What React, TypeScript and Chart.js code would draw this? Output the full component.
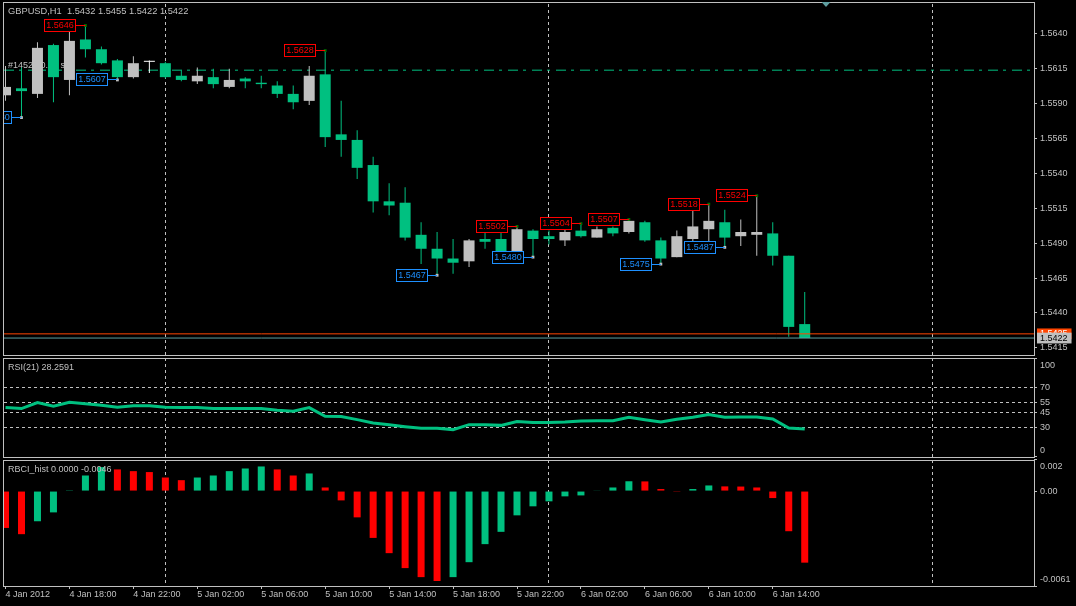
import React, { useEffect, useRef } from 'react';
import { Chart, registerables } from 'chart.js';

Chart.register(...registerables);

// ---------------- data ----------------
const OPEN = [1.5596,1.5601,1.5597,1.5632,1.5607,1.5636,1.5629,1.5621,1.5609,1.5620,1.5619,1.5610,1.5606,1.5609,1.5602,1.5608,1.5605,1.5603,1.5597,1.5592,1.5611,1.5568,1.5564,1.5546,1.5520,1.5519,1.5496,1.5486,1.5479,1.5477,1.5493,1.5493,1.5484,1.5499,1.5495,1.5492,1.5499,1.5494,1.5501,1.5498,1.5505,1.5492,1.5480,1.5493,1.5500,1.5505,1.5495,1.5496,1.5497,1.5481,1.5432];
const HIGH = [1.5617,1.5616,1.5634,1.5633,1.5642,1.5646,1.5631,1.5622,1.5624,1.5621,1.5620,1.5614,1.5616,1.5615,1.5615,1.5609,1.5610,1.5606,1.5603,1.5617,1.5628,1.5592,1.5571,1.5552,1.5533,1.5530,1.5505,1.5498,1.5493,1.5493,1.5499,1.5501,1.5502,1.5500,1.5499,1.5500,1.5504,1.5502,1.5502,1.5507,1.5506,1.5494,1.5499,1.5516,1.5518,1.5514,1.5507,1.5524,1.5505,1.5481,1.5455];
const LOW = [1.5592,1.5580,1.5594,1.5591,1.5596,1.5623,1.5618,1.5607,1.5608,1.5612,1.5608,1.5606,1.5604,1.5601,1.5601,1.5601,1.5601,1.5594,1.5586,1.5589,1.5559,1.5552,1.5536,1.5512,1.5510,1.5492,1.5475,1.5467,1.5468,1.5473,1.5486,1.5483,1.5483,1.5480,1.5489,1.5488,1.5494,1.5494,1.5495,1.5497,1.5491,1.5475,1.5480,1.5490,1.5489,1.5487,1.5488,1.5481,1.5474,1.5423,1.5422];
const CLOSE = [1.5602,1.5599,1.5630,1.5609,1.5635,1.5629,1.5619,1.5609,1.5619,1.5620,1.5609,1.5607,1.5610,1.5604,1.5607,1.5606,1.5604,1.5597,1.5591,1.5610,1.5566,1.5564,1.5544,1.5520,1.5517,1.5494,1.5486,1.5479,1.5476,1.5492,1.5491,1.5484,1.5500,1.5493,1.5493,1.5498,1.5495,1.5500,1.5497,1.5506,1.5492,1.5479,1.5495,1.5502,1.5506,1.5494,1.5498,1.5498,1.5481,1.5430,1.5422];
const RSI = [50,49,55.1,51.4,55.4,54,52.4,50.4,52,52,50.4,50,50,49,49,49,49,47.3,46.3,50,41.2,40.9,37.8,34.4,32.7,30.7,29,29,27.7,32.7,32.7,32,35.8,34.8,34.8,35.4,36.5,36.8,36.8,40.2,37.8,35.4,38.1,40.2,42.9,40.2,40.5,40.5,38.5,29.3,28.26];
const RBCI = [-0.00237,-0.00277,-0.00194,-0.00137,0.00005,0.001,0.00154,0.00139,0.00128,0.00122,0.00087,0.0007,0.00087,0.001,0.00128,0.00145,0.00158,0.00139,0.001,0.00113,0.00023,-0.0006,-0.00169,-0.00301,-0.00399,-0.00495,-0.00553,-0.00578,-0.00553,-0.00457,-0.00341,-0.00262,-0.00156,-0.00098,-0.00066,-0.00034,-0.00028,0.00004,0.00023,0.00063,0.00062,0.00013,-0.00005,0.00013,0.00036,0.0003,0.00029,0.00023,-0.00045,-0.00258,-0.0046];

const X_TICK_BARS = [0,4,8,12,16,20,24,28,32,36,40,44,48];
const X_TICK_LABELS = ['4 Jan 2012','4 Jan 18:00','4 Jan 22:00','5 Jan 02:00','5 Jan 06:00','5 Jan 10:00','5 Jan 14:00','5 Jan 18:00','5 Jan 22:00','6 Jan 02:00','6 Jan 06:00','6 Jan 10:00','6 Jan 14:00'];
const DAY_SEPARATORS = [10,34,58];
const SHIFT_MARK = 51.3;

const PRICE_TICKS = [1.5640,1.5615,1.5590,1.5565,1.5540,1.5515,1.5490,1.5465,1.5440,1.5415];
const ASK_PRICE = 1.5425;
const BID_PRICE = 1.5422;
const ORDER_LINE = 1.5614;
const ORDER_TEXT = '#14523 0.10 sl';

const RSI_TICKS = [100,70,55,45,30,0];
const RSI_LEVELS = [70,55,45,30];
const RBCI_TICKS = [0.002,0,-0.0061];
const RBCI_TICK_LABELS = ['0.002','0.00','-0.0061'];

const HIGH_MARKS = [5,20,32,36,39,44,47];
const LOW_MARKS = [1,7,27,33,41,45];

const TITLE_MAIN = 'GBPUSD,H1  1.5432 1.5455 1.5422 1.5422';
const TITLE_RSI = 'RSI(21) 28.2591';
const TITLE_RBCI = 'RBCI_hist 0.0000 -0.0046';

// ---------------- style / geometry ----------------
const FONT_FAMILY = '"Liberation Sans", Arial, sans-serif';
const FONT_SIZE = 9;
const FONT = { family: FONT_FAMILY, size: FONT_SIZE };
const EDGE_FONT = { family: FONT_FAMILY, size: FONT_SIZE, lineHeight: 1.5 };
const CSS_FONT = `${FONT_SIZE}px ${FONT_FAMILY}`;
const TITLE_FONT = `9.3px ${FONT_FAMILY}`;
const SILVER = '#c0c0c0';
const GREEN = '#00c080';
const RED = '#ff0000';
const BLUE = '#1e90ff';
const ASK_COLOR = '#ff4500';
const BID_COLOR = '#5f9ea0';
const W = 1076, H = 606;
const PLOT = { left: 3, top: 2, right: 1034, bottom: 586 };
const BAR_STEP = 16, BAR0_X = 4.5;
const PANES = [
  { top: 2, bottom: 355 },
  { top: 358, bottom: 457 },
  { top: 460, bottom: 586 },
];

function axisRange(vTop: number, pTop: number, vBot: number, pBot: number) {
  const upp = (vTop - vBot) / (pBot - pTop);
  return { max: vTop + (pTop - PLOT.top) * upp, min: vBot - (PLOT.bottom - pBot) * upp };
}
const PRICE_RANGE = axisRange(PRICE_TICKS[0], 32, PRICE_TICKS[PRICE_TICKS.length - 1], 347);
const RSI_RANGE = axisRange(100, 357.5, 0, 456.5);
const RBCI_RANGE = axisRange(RBCI_TICKS[0], 459.5, RBCI_TICKS[RBCI_TICKS.length - 1], 586);
const X_MIN = (PLOT.left - BAR0_X) / BAR_STEP;
const X_MAX = (PLOT.right - BAR0_X) / BAR_STEP;

const candleColor = (i: number) => (CLOSE[i] > OPEN[i] ? SILVER : CLOSE[i] < OPEN[i] ? GREEN : '#ffffff');
const rbciColor = (i: number) => (i > 0 && RBCI[i] > RBCI[i - 1] ? GREEN : RED);

const noPad = (s: any) => { s.paddingLeft = 0; s.paddingRight = 0; s.paddingTop = 0; s.paddingBottom = 0; };

const decorPlugin = {
  id: 'decor',
  afterLayout(chart: any) {
    // indicator axes take no layout room, but share the price axis strip for their labels
    ['yRsi', 'yRbci'].forEach((id) => {
      const s = chart.scales[id];
      s.left = PLOT.right;
      s.right = W;
      s.width = W - PLOT.right;
    });
  },
  beforeDatasetsDraw(chart: any) {
    const { ctx } = chart;
    const ys = chart.scales.y;
    ctx.save();
    ctx.font = CSS_FONT;
    ctx.fillStyle = SILVER;
    ctx.textBaseline = 'alphabetic';
    ctx.fillText(ORDER_TEXT, 8, ys.getPixelForValue(ORDER_LINE) - 2);
    ctx.restore();
  },
  afterDatasetsDraw(chart: any) {
    const { ctx } = chart;
    const xs = chart.scales.x, ys = chart.scales.y;
    ctx.save();
    ctx.beginPath();
    ctx.rect(PLOT.left, PANES[0].top, PLOT.right - PLOT.left, PANES[0].bottom - PANES[0].top);
    ctx.clip();
    ctx.font = CSS_FONT;
    ctx.textAlign = 'center';
    ctx.textBaseline = 'middle';
    const draw = (bars: number[], vals: number[], color: string) => {
      bars.forEach((b) => {
        const x = xs.getPixelForValue(b);
        const y = ys.getPixelForValue(vals[b]);
        const left = Math.round(x) - 41;
        const top = Math.round(y - 6.5);
        ctx.fillStyle = '#000';
        ctx.fillRect(left, top, 31, 12);
        ctx.strokeStyle = color;
        ctx.lineWidth = 1;
        ctx.strokeRect(left + 0.5, top + 0.5, 31, 12);
        ctx.beginPath();
        ctx.moveTo(left + 31, top + 6.5);
        ctx.lineTo(x, top + 6.5);
        ctx.stroke();
        ctx.fillStyle = color;
        ctx.fillText(vals[b].toFixed(4), left + 16, top + 7);
      });
    };
    draw(HIGH_MARKS, HIGH, RED);
    draw(LOW_MARKS, LOW, BLUE);
    ctx.restore();
  },
  afterDraw(chart: any) {
    const { ctx } = chart;
    const xs = chart.scales.x;
    ctx.save();
    ctx.strokeStyle = SILVER;
    ctx.lineWidth = 1;
    PANES.forEach((p) => {
      ctx.strokeRect(PLOT.left + 0.5, p.top + 0.5, PLOT.right - PLOT.left, p.bottom - p.top);
    });
    ctx.font = TITLE_FONT;
    ctx.fillStyle = SILVER;
    ctx.textBaseline = 'middle';
    ctx.textAlign = 'left';
    ctx.fillText(TITLE_MAIN, 8, 11);
    ctx.font = CSS_FONT;
    ctx.fillText(TITLE_RSI, 8, 368);
    ctx.fillText(TITLE_RBCI, 8, 470);
    const sx = xs.getPixelForValue(SHIFT_MARK);
    ctx.fillStyle = BID_COLOR;
    ctx.beginPath();
    ctx.moveTo(sx - 4, 2);
    ctx.lineTo(sx + 5, 2);
    ctx.lineTo(sx + 0.5, 7);
    ctx.closePath();
    ctx.fill();
    ctx.restore();
  },
};

export default function App() {
  const ref = useRef<HTMLCanvasElement>(null);
  useEffect(() => {
    const idx = OPEN.map((_, i) => i);
    const priceAxisTicks = [...PRICE_TICKS, ASK_PRICE, BID_PRICE];
    const hline = (v: number) => [{ x: X_MIN, y: v }, { x: X_MAX, y: v }];
    const chart = new Chart(ref.current as HTMLCanvasElement, {
      type: 'line',
      data: {
        datasets: [
          {
            type: 'line', xAxisID: 'x', yAxisID: 'y', order: 20,
            data: hline(ORDER_LINE), borderColor: GREEN, borderWidth: 1,
            borderDash: [10, 5, 3, 6], pointRadius: 0,
          },
          {
            type: 'bar', xAxisID: 'x', yAxisID: 'y', order: 6,
            data: idx.map((i) => ({ x: i, y: [LOW[i], HIGH[i]] })),
            backgroundColor: idx.map(candleColor),
            barThickness: 1, maxBarThickness: 1, grouped: false, inflateAmount: 0, borderWidth: 0,
          },
          {
            type: 'bar', xAxisID: 'x', yAxisID: 'y', order: 5,
            data: idx.map((i) => ({ x: i, y: [OPEN[i], CLOSE[i]] })),
            backgroundColor: idx.map(candleColor),
            barThickness: 11, maxBarThickness: 11, grouped: false, inflateAmount: 0, borderWidth: 0,
            minBarLength: 1,
          },
          {
            type: 'line', xAxisID: 'x', yAxisID: 'y', order: 2,
            data: hline(ASK_PRICE), borderColor: ASK_COLOR, borderWidth: 1, pointRadius: 0,
          },
          {
            type: 'line', xAxisID: 'x', yAxisID: 'y', order: 2,
            data: hline(BID_PRICE), borderColor: BID_COLOR, borderWidth: 1, pointRadius: 0,
          },
          {
            type: 'scatter', xAxisID: 'x', yAxisID: 'y', order: 1,
            data: HIGH_MARKS.map((i) => ({ x: i, y: HIGH[i] })),
            pointStyle: 'rect', pointRadius: 2, backgroundColor: '#007000', borderWidth: 0,
          },
          {
            type: 'scatter', xAxisID: 'x', yAxisID: 'y', order: 1,
            data: LOW_MARKS.map((i) => ({ x: i, y: LOW[i] })),
            pointStyle: 'rect', pointRadius: 2, backgroundColor: SILVER, borderWidth: 0,
          },
          {
            type: 'line', xAxisID: 'x', yAxisID: 'yRsi', order: 3,
            data: idx.map((i) => ({ x: i, y: RSI[i] })),
            borderColor: GREEN, borderWidth: 3, pointRadius: 0, tension: 0,
          },
          {
            type: 'bar', xAxisID: 'x', yAxisID: 'yRbci', order: 4,
            data: idx.map((i) => ({ x: i, y: [0, RBCI[i]] })),
            backgroundColor: idx.map(rbciColor),
            barThickness: 7, maxBarThickness: 7, grouped: false, inflateAmount: 0, borderWidth: 0,
          },
        ] as any,
      },
      options: {
        responsive: false,
        animation: false,
        devicePixelRatio: 1,
        events: [],
        layout: { padding: { left: PLOT.left, top: PLOT.top, right: 0, bottom: 0 } },
        plugins: { legend: { display: false }, tooltip: { enabled: false } },
        scales: {
          x: {
            type: 'linear', position: 'bottom', min: X_MIN, max: X_MAX, offset: false,
            afterBuildTicks: (s: any) => { s.ticks = X_TICK_BARS.map((v) => ({ value: v })); },
            afterFit: (s: any) => { s.height = H - PLOT.bottom; noPad(s); },
            ticks: {
              autoSkip: false, maxRotation: 0, minRotation: 0, align: 'start', padding: 0,
              color: SILVER, font: FONT,
              callback: (_v: any, i: number) => X_TICK_LABELS[i],
            },
            grid: { drawOnChartArea: false, drawTicks: true, tickLength: 3, tickColor: SILVER, color: SILVER, offset: false },
            border: { display: false },
          },
          xSep: {
            type: 'linear', position: 'bottom', min: X_MIN, max: X_MAX, offset: false,
            afterBuildTicks: (s: any) => { s.ticks = DAY_SEPARATORS.map((v) => ({ value: v })); },
            afterFit: (s: any) => { s.height = 0; noPad(s); },
            ticks: { display: false, autoSkip: false },
            grid: { drawOnChartArea: true, drawTicks: false, color: SILVER, offset: false },
            border: { display: false, dash: [3, 3] },
          },
          y: {
            type: 'linear', position: 'right', weight: 10, min: PRICE_RANGE.min, max: PRICE_RANGE.max,
            afterBuildTicks: (s: any) => { s.ticks = priceAxisTicks.map((v) => ({ value: v })); },
            afterFit: (s: any) => { s.width = W - PLOT.right; noPad(s); },
            ticks: {
              autoSkip: false, padding: 3, font: FONT,
              color: (c: any) => (c.index === PRICE_TICKS.length ? '#ffffff' : c.index === PRICE_TICKS.length + 1 ? '#000000' : SILVER),
              callback: (_v: any, i: number) => priceAxisTicks[i].toFixed(4),
              showLabelBackdrop: (c: any) => c.index >= PRICE_TICKS.length,
              backdropColor: (c: any) => (c.index === PRICE_TICKS.length ? ASK_COLOR : SILVER),
              backdropPadding: { top: 0, bottom: 0, left: 3, right: 4 },
            },
            grid: {
              drawOnChartArea: false, tickLength: 3,
              tickColor: (c: any) => (c.index >= PRICE_TICKS.length ? 'rgba(0,0,0,0)' : SILVER),
            },
            border: { display: false },
          },
          yRsi: {
            type: 'linear', position: 'right', weight: 1, min: RSI_RANGE.min, max: RSI_RANGE.max,
            afterBuildTicks: (s: any) => { s.ticks = RSI_TICKS.map((v) => ({ value: v })); },
            afterFit: (s: any) => { s.width = 0; noPad(s); },
            ticks: {
              autoSkip: false, padding: 3, font: EDGE_FONT, color: SILVER,
              callback: (_v: any, i: number) => {
                const t = String(RSI_TICKS[i]);
                return i === 0 ? ['', t] : i === RSI_TICKS.length - 1 ? [t, ''] : t;
              },
            },
            grid: {
              drawOnChartArea: true, tickLength: 3, tickColor: SILVER,
              color: (c: any) => (c.tick && RSI_LEVELS.includes(c.tick.value) ? SILVER : 'rgba(0,0,0,0)'),
            },
            border: { display: false, dash: [3, 3] },
          },
          yRbci: {
            type: 'linear', position: 'right', weight: 2, min: RBCI_RANGE.min, max: RBCI_RANGE.max,
            afterBuildTicks: (s: any) => { s.ticks = RBCI_TICKS.map((v) => ({ value: v })); },
            afterFit: (s: any) => { s.width = 0; noPad(s); },
            ticks: {
              autoSkip: false, padding: 3, font: EDGE_FONT, color: SILVER,
              callback: (_v: any, i: number) => {
                const t = RBCI_TICK_LABELS[i];
                return i === 0 ? ['', t] : i === RBCI_TICKS.length - 1 ? [t, ''] : t;
              },
            },
            grid: { drawOnChartArea: false, tickLength: 3, tickColor: SILVER },
            border: { display: false },
          },
        } as any,
      },
      plugins: [decorPlugin],
    });
    return () => chart.destroy();
  }, []);
  return (
    <div style={{ position: 'fixed', left: 0, top: 0, width: W, height: H, background: '#000' }}>
      <canvas ref={ref} width={W} height={H} style={{ display: 'block', width: W, height: H }} />
    </div>
  );
}
